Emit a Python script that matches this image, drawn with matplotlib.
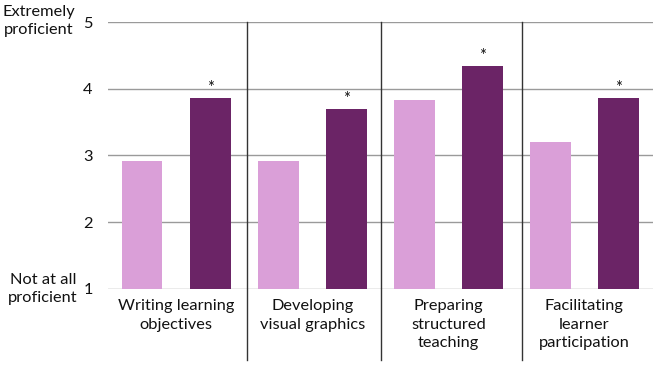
import matplotlib
matplotlib.use("Agg")
import matplotlib.pyplot as plt
import numpy as np

categories = ["Writing learning\nobjectives", "Developing\nvisual graphics",
              "Preparing\nstructured\nteaching", "Facilitating\nlearner\nparticipation"]
before = [2.92, 2.92, 3.83, 3.20]
after = [3.865, 3.70, 4.345, 3.865]
significant = [True, True, True, True]
yticks = [1, 2, 3, 4, 5]

plt.rcParams['font.family'] = ['Lato', 'DejaVu Sans']

fig = plt.figure(figsize=(6.57, 3.66), dpi=100)
ax = fig.add_axes([108/657, 1-288.7/366, (652.5-108)/657, (288.7-22)/366])

x = np.arange(len(categories))
off = 0.25
w = 0.30
light = "#DA9FD8"
dark = "#6B2466"
separators = [0.524, 1.509, 2.538]

ax.set_ylim(1, 5)
ax.set_xlim(-0.5, len(categories) - 0.5)
for yv in yticks:
    ax.axhline(yv, color="#9a9a9a", lw=1.0, zorder=0)

ax.bar(x - off, [b - 1 for b in before], bottom=1, width=w, color=light, zorder=2)
ax.bar(x + off, [a - 1 for a in after], bottom=1, width=w, color=dark, zorder=2)

for xi, a, s in zip(x, after, significant):
    if s:
        ax.annotate("*", (xi + off, a), xytext=(0, 1.5), textcoords="offset points",
                    ha="center", va="bottom", fontsize=12, color="#111111")

trans = ax.get_xaxis_transform()
for sep in separators:
    ax.plot([sep, sep], [-0.267, 1.0], transform=trans, color="#333333", lw=1.0,
            clip_on=False, zorder=3)

for xi, c in zip(x, categories):
    ax.text(xi, -0.04, c, transform=trans, ha="center", va="top", fontsize=11.8,
            color="#111111", linespacing=1.4)

ax.set_yticks(yticks)
ax.set_yticklabels([str(t) for t in yticks], fontsize=11.8, color="#111111")
ax.tick_params(axis="y", length=0, pad=11)
ax.set_xticks([])
for sp in ax.spines.values():
    sp.set_visible(False)

fig.text(39/657, 1-21/366, "Extremely\nproficient", ha="center", va="center",
         fontsize=11.8, color="#111111", linespacing=1.4)
fig.text(43/657, 1-289/366, "Not at all\nproficient", ha="center", va="center",
         fontsize=11.8, color="#111111", linespacing=1.35)

fig.savefig("out.png", dpi=100)
